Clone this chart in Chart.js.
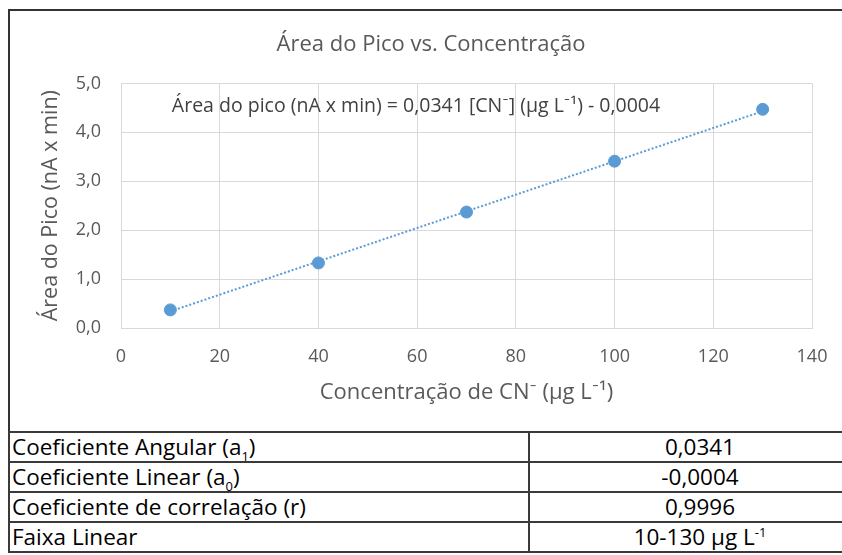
<!DOCTYPE html>
<html>
<head>
<meta charset="utf-8">
<script src="https://cdn.jsdelivr.net/npm/chart.js@4.4.0/dist/chart.umd.min.js"></script>
<style>
    html, body { margin: 0; padding: 0; background: #fff; overflow: hidden; width: 842px; height: 555px; }
    .chart-box {
        position: absolute; left: 8px; top: 9px; width: 900px; height: 422px;
        border-top: 2px solid #333; border-left: 2px solid #333;
    }
    .chart-wrap { position: absolute; left: 10px; top: 11px; width: 842px; height: 420px; }
    table {
        position: absolute; left: 8px; top: 431px; width: 864px;
        border-collapse: collapse; font-family: "Open Sans", sans-serif; font-size: 22.5px; color: #000;
    }
    td { border: 2px solid #3a3a3a; height: 28px; padding: 0 2px; line-height: 28px; }
    td.val { text-align: center; width: 336px; }
    sub, sup { font-size: 13px; line-height: 0; }
</style>
</head>
<body>
<div class="chart-box"></div>
<div class="chart-wrap"><canvas id="calChart"></canvas></div>
<table>
    <tr><td>Coeficiente Angular (a<sub>1</sub>)</td><td class="val">0,0341</td></tr>
    <tr><td>Coeficiente Linear (a<sub>0</sub>)</td><td class="val">-0,0004</td></tr>
    <tr><td>Coeficiente de correlação (r)</td><td class="val">0,9996</td></tr>
    <tr><td>Faixa Linear</td><td class="val">10-130 µg L<sup>-1</sup></td></tr>
</table>
<script>
// Dados
const concentracoes = [10, 40, 70, 100, 130];
const areasPico = [0.37, 1.33, 2.37, 3.41, 4.47];
// Linha de tendência (extremos)
const tendenciaX = [10, 130];
const tendenciaY = [0.34, 4.43];
const xTicks = [0, 20, 40, 60, 80, 100, 120, 140];
const yTicks = [0, 1, 2, 3, 4, 5];

const tituloGrafico = 'Área do Pico vs. Concentração';
const tituloX = 'Concentração de CN⁻ (µg L⁻¹)';
const tituloY = 'Área do Pico (nA x min)';
const equacao = 'Área do pico (nA x min) = 0,0341 [CN⁻] (µg L⁻¹) - 0,0004';

const azul = '#5b9bd5';
const cinza = '#595959';
const grade = '#d9d9d9';
const fonte = '"Open Sans", Lato, sans-serif';

// Escreve a equação da reta dentro da área do gráfico
const equacaoPlugin = {
    id: 'equacao',
    afterDatasetsDraw(chart) {
        const { ctx, scales } = chart;
        const px = scales.x.getPixelForValue(10.3);
        const py = scales.y.getPixelForValue(4.52);
        ctx.save();
        ctx.font = '19.5px ' + fonte;
        ctx.fillStyle = '#404040';
        ctx.textAlign = 'left';
        ctx.textBaseline = 'middle';
        ctx.fillText(equacao, px, py);
        ctx.restore();
    }
};

const formatoVirgula = v => v.toFixed(1).replace('.', ',');

new Chart(document.getElementById('calChart'), {
    type: 'scatter',
    data: {
        datasets: [
            {
                label: 'Área do Pico',
                data: concentracoes.map((x, i) => ({ x: x, y: areasPico[i] })),
                backgroundColor: azul,
                borderColor: azul,
                pointRadius: 6,
                pointHoverRadius: 6,
                order: 0
            },
            {
                label: 'Tendência',
                type: 'line',
                data: tendenciaX.map((x, i) => ({ x: x, y: tendenciaY[i] })),
                borderColor: azul,
                borderWidth: 2,
                borderDash: [2, 2],
                pointRadius: 0,
                fill: false,
                order: 1
            }
        ]
    },
    options: {
        responsive: true,
        maintainAspectRatio: false,
        animation: false,
        layout: { padding: 0 },
        plugins: {
            legend: { display: false },
            tooltip: { enabled: false },
            title: {
                display: true,
                text: tituloGrafico,
                color: cinza,
                font: { family: fonte, size: 22, weight: 'normal' },
                padding: { top: 21, bottom: 25 }
            }
        },
        scales: {
            x: {
                type: 'linear',
                min: 0,
                max: 140,
                afterBuildTicks: scale => { scale.ticks = xTicks.map(v => ({ value: v })); },
                afterFit: scale => { scale.height = 103; },
                grid: { color: grade, drawTicks: false },
                border: { color: grade },
                ticks: {
                    color: cinza,
                    padding: 18,
                    font: { family: fonte, size: 18 }
                },
                title: {
                    display: true,
                    text: tituloX,
                    color: cinza,
                    font: { family: fonte, size: 22 },
                    padding: { top: 0, bottom: 25 }
                }
            },
            y: {
                min: 0,
                max: 5,
                afterBuildTicks: scale => { scale.ticks = yTicks.map(v => ({ value: v })); },
                afterFit: scale => { scale.width = 111; },
                grid: { color: grade, drawTicks: false },
                border: { color: grade },
                ticks: {
                    color: cinza,
                    padding: 20,
                    font: { family: fonte, size: 18 },
                    callback: formatoVirgula
                },
                title: {
                    display: true,
                    text: tituloY,
                    color: cinza,
                    font: { family: fonte, size: 21.5 },
                    padding: { top: 28, bottom: 0 }
                }
            },
            // eixo vazio à direita, só para reservar a margem
            margem: {
                position: 'right',
                min: 0,
                max: 5,
                afterFit: scale => { scale.width = 40; },
                grid: { display: false },
                border: { display: false },
                ticks: { display: false }
            }
        }
    },
    plugins: [equacaoPlugin]
});
</script>
</body>
</html>
